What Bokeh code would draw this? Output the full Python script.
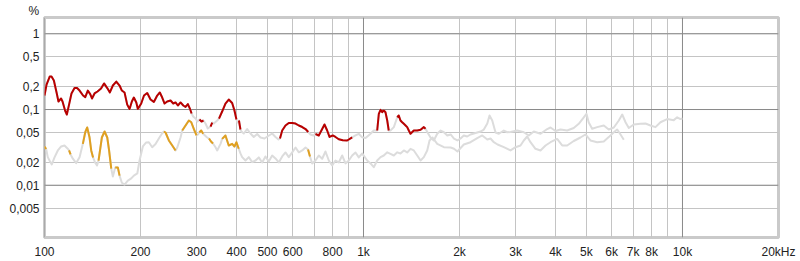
import math
from bokeh.plotting import figure
from bokeh.models import FixedTicker, Span, Title, Range1d
from bokeh.embed import file_html
from bokeh.resources import INLINE

# ---------------- data ----------------
x_ticks = [100, 200, 300, 400, 500, 600, 800, 1000, 2000, 3000, 4000, 5000,
           6000, 7000, 8000, 10000, 20000]
x_tick_labels = ["100", "200", "300", "400", "500", "600", "800", "1k", "2k", "3k",
                 "4k", "5k", "6k", "7k", "8k", "10k", "20kHz"]
x_grid = [100, 200, 300, 400, 500, 600, 700, 800, 900, 1000, 2000, 3000, 4000,
          5000, 6000, 7000, 8000, 9000, 10000, 20000]
y_ticks = [0.005, 0.01, 0.02, 0.05, 0.1, 0.2, 0.5, 1]
y_tick_labels = ["0,005", "0,01", "0,02", "0,05", "0,1", "0,2", "0,5", "1"]
x_decades = [100, 1000, 10000]
y_decades = [0.01, 0.1, 1]
y_unit = "%"

# 2nd harmonic (%)
h2_f = [100, 101.5, 103.9, 105.2, 107, 109.1, 110.6, 112.7, 113.9, 116, 117.5, 119.4,
        121.5, 124.2, 126.5, 128.8, 132.1, 134.2, 136.7, 139.1, 140.9, 143.5, 146.6,
        150.4, 153.7, 157.3, 160.3, 163.8, 167.9, 171.9, 174.8, 178.2, 181.7, 184.8,
        187.9, 190.6, 194, 196.2, 201, 205.1, 209.9, 215, 220.2, 225.6, 229.9, 233.9,
        237.9, 242.5, 248.4, 253.3, 257.5, 261.9, 267, 272.3, 276.8, 281.5, 285.6,
        289.1, 292.5, 297.4, 301.7, 306.1, 310.6, 315.1, 319.7, 325, 331.5, 335.6,
        339.5, 347.9, 352.4, 360.5, 369.2, 378.1, 387.5, 394, 399.7, 402.6, 407,
        411.4, 414.4, 421.4, 431.8, 442.3, 452.9, 464.2, 475.4, 489.3, 500, 517.3,
        529.8, 541.4, 547.3, 556.1, 569.5, 583.2, 597.8, 612.3, 627.1, 642.7, 658.1,
        671.2, 682, 697, 707.1, 724.2, 742.2, 754.6, 769.4, 782.5, 801, 816.9, 836.6,
        861.1, 889, 921.6, 944, 966.7, 990.6, 1015, 1037, 1052, 1077, 1104, 1117,
        1131, 1145, 1158, 1172, 1187, 1200, 1215, 1245, 1276, 1290, 1306, 1322, 1338,
        1355, 1371, 1387, 1404, 1438, 1474, 1510, 1546, 1565, 1588, 1622, 1661, 1703,
        1745, 1787, 1831, 1876, 1922, 1970, 2015, 2063, 2114, 2166, 2273, 2328, 2384,
        2444, 2484, 2533, 2594, 2657, 2754, 2823, 2891, 3033, 3181, 3298, 3419, 3589,
        3767, 3857, 4000, 4145, 4350, 4562, 4730, 4905, 5000, 5084, 5210, 5402, 5666,
        5874, 6092, 6316, 6473, 6629, 6789, 7035, 7384, 7656, 7937, 8229, 8531, 8955,
        9392, 9626, 9858, 10000]
h2_v = [0.153, 0.214, 0.273, 0.273, 0.242, 0.168, 0.1275, 0.140, 0.1275, 0.097, 0.0859,
        0.116, 0.163, 0.192, 0.192, 0.178, 0.153, 0.146, 0.178, 0.160, 0.140, 0.163,
        0.173, 0.189, 0.221, 0.192, 0.168, 0.2075, 0.234, 0.2075, 0.178, 0.168, 0.116,
        0.1015, 0.1275, 0.144, 0.124, 0.1015, 0.120, 0.153, 0.165, 0.1355, 0.126, 0.153,
        0.168, 0.144, 0.120, 0.1275, 0.1315, 0.120, 0.124, 0.113, 0.124, 0.113, 0.108,
        0.118, 0.103, 0.0885, 0.0808, 0.076, 0.0694, 0.0738, 0.0694, 0.0716, 0.0653,
        0.0561, 0.0596, 0.0673, 0.0653, 0.0716, 0.076, 0.0941, 0.120, 0.1355, 0.122,
        0.097, 0.0738, 0.0673, 0.0716, 0.0544, 0.0512, 0.0482, 0.0552, 0.0482, 0.0434,
        0.0475, 0.0427, 0.0414, 0.044, 0.0482, 0.0434, 0.0402, 0.0414, 0.0528, 0.0615,
        0.0663, 0.0663, 0.0653, 0.0615, 0.0587, 0.0552, 0.0505, 0.0468, 0.0454, 0.0475,
        0.0454, 0.0552, 0.0634, 0.0528, 0.0434, 0.0454, 0.0434, 0.0405, 0.0393, 0.039,
        0.0429, 0.0454, 0.0478, 0.0429, 0.042, 0.0454, 0.0478, 0.0528, 0.0528, 0.0877,
        0.099, 0.0922, 0.097, 0.0922, 0.0716, 0.0528, 0.0528, 0.0585, 0.079, 0.0833,
        0.0716, 0.0679, 0.0647, 0.0615, 0.0585, 0.0528, 0.0478, 0.0528, 0.0528, 0.054,
        0.0585, 0.0556, 0.0497, 0.0427, 0.039, 0.0478, 0.0528, 0.0501, 0.0454, 0.0468,
        0.0414, 0.039, 0.0414, 0.0454, 0.044, 0.0468, 0.0497, 0.0512, 0.0544, 0.0653,
        0.0833, 0.0716, 0.0497, 0.0478, 0.0528, 0.0501, 0.0505, 0.0528, 0.0501, 0.0454,
        0.0512, 0.0478, 0.0552, 0.0579, 0.052, 0.0544, 0.0528, 0.057, 0.0647, 0.079,
        0.0877, 0.0673, 0.0556, 0.0585, 0.0615, 0.0544, 0.0579, 0.0716, 0.0859, 0.0679,
        0.057, 0.0634, 0.0647, 0.0653, 0.0615, 0.0585, 0.0679, 0.0748, 0.0724, 0.079,
        0.0748, 0.076]
# frequency spans where H2 is shown in colour
h2_hi = [(100, 289.1), (306.1, 315.1), (331.5, 335.6), (352.4, 399.7), (407, 411.4),
         (547.3, 671.2), (707.1, 921.6), (1104, 1200), (1276, 1565)]

# 3rd harmonic (%)
h3_f = [100, 101.2, 102.4, 103.7, 105.4, 107.5, 110.1, 112.8, 115.5, 118.5, 119.4, 120.7,
        122.7, 125.7, 128.8, 131.9, 134.2, 136.1, 138.4, 140.1, 142, 144, 146.1, 147.7,
        149.3, 151.3, 154.3, 157.3, 159.4, 161.9, 163.8, 166.6, 169.8, 171.9, 174.8,
        178.2, 182.5, 187.1, 190.6, 195.4, 198.6, 203.4, 208.4, 212.4, 217.6, 222.9,
        228.3, 233.6, 236.7, 239.6, 245.4, 251.5, 257.5, 260.7, 267, 270.3, 276.8,
        283.5, 288.5, 294, 299.6, 302.8, 305.7, 309.9, 314.4, 318.5, 323.6, 327.9,
        332.6, 337.5, 343.7, 347.9, 356.3, 360.5, 369.2, 378.1, 387.5, 394, 399.7,
        406.4, 411.4, 416.5, 426.6, 436.9, 447.8, 458.6, 469.6, 481.2, 492.8, 504.7,
        517.3, 529.8, 542.6, 556.1, 569.5, 583.2, 597.8, 612.3, 627.1, 642.7, 658.1,
        670.2, 679.6, 690.5, 707.1, 724.2, 742.2, 760.1, 778.5, 797.7, 816.9, 836.6,
        857.4, 878.1, 899.4, 921.6, 944, 966.7, 990.6, 1027, 1052, 1077, 1104, 1131,
        1158, 1187, 1215, 1245, 1276, 1306, 1338, 1371, 1404, 1438, 1474, 1510, 1546,
        1584, 1611, 1646, 1703, 1787, 1876, 1922, 1970, 2063, 2166, 2273, 2357, 2444,
        2502, 2562, 2632, 2754, 2891, 2996, 3106, 3181, 3260, 3338, 3461, 3589, 3721,
        3857, 4046, 4196, 4350, 4562, 4788, 4964, 5146, 5402, 5666, 5874, 6092, 6243,
        6394, 6548]
h3_v = [0.0325, 0.0301, 0.0235, 0.0212, 0.0188, 0.0233, 0.0288, 0.0325, 0.0335, 0.0301,
        0.0288, 0.0255, 0.0224, 0.0196, 0.0235, 0.0352, 0.0501, 0.0579, 0.043, 0.0288,
        0.0233, 0.020, 0.0182, 0.0212, 0.0288, 0.0427, 0.0512, 0.0427, 0.0288, 0.0166,
        0.013, 0.0172, 0.0172, 0.0134, 0.0108, 0.0102, 0.0115, 0.0123, 0.0134, 0.0143,
        0.0212, 0.0325, 0.0367, 0.0369, 0.0318, 0.035, 0.0414, 0.0482, 0.0512, 0.0497,
        0.039, 0.0335, 0.0288, 0.0315, 0.0427, 0.0528, 0.0615, 0.0716, 0.0679, 0.0552,
        0.0454, 0.0468, 0.0497, 0.0528, 0.0478, 0.0454, 0.0427, 0.0414, 0.0378, 0.0356,
        0.0318, 0.0288, 0.0352, 0.041, 0.0454, 0.0335, 0.0352, 0.0325, 0.037, 0.0303,
        0.0263, 0.0235, 0.0212, 0.0235, 0.0202, 0.0212, 0.0233, 0.020, 0.024, 0.0206,
        0.0247, 0.0226, 0.020, 0.024, 0.0271, 0.0235, 0.0272, 0.0315, 0.0272, 0.0288,
        0.0315, 0.0297, 0.024, 0.0194, 0.0212, 0.0247, 0.0224, 0.0279, 0.0212, 0.0182,
        0.0212, 0.020, 0.0247, 0.0194, 0.0212, 0.0247, 0.0271, 0.0233, 0.0263, 0.0212,
        0.0194, 0.0173, 0.0212, 0.0235, 0.0247, 0.0272, 0.026, 0.0247, 0.0272, 0.0263,
        0.0288, 0.0271, 0.0302, 0.0288, 0.0247, 0.0212, 0.0235, 0.0288, 0.039, 0.0427,
        0.0352, 0.0318, 0.0315, 0.0303, 0.0279, 0.0345, 0.037, 0.042, 0.0454, 0.0402,
        0.0414, 0.037, 0.0345, 0.0318, 0.0288, 0.0318, 0.0335, 0.039, 0.044, 0.037,
        0.0303, 0.0288, 0.0335, 0.037, 0.0409, 0.0335, 0.0335, 0.0384, 0.0427, 0.0468,
        0.039, 0.037, 0.0378, 0.0432, 0.0501, 0.0544, 0.0468, 0.0399]
h3_hi = [(100, 101.2), (119.4, 120.7), (131.9, 142), (147.7, 161.9), (166.6, 171.9),
         (236.7, 257.5), (270.3, 299.6), (305.7, 314.4), (327.9, 337.5), (360.5, 406.4),
         (670.2, 679.6)]

# ---------------- styling ----------------
RED = "#b80000"
ORANGE = "#e0a020"
GREY = "#dcdcdc"
GRID = "#c4c4c4"
DECADE = "#8a8a8a"
FONT = "Liberation Sans"


def highlighted(freqs, vals, spans):
    out = []
    for f, v in zip(freqs, vals):
        inside = any(lo <= f <= hi for lo, hi in spans)
        out.append(v if inside else float("nan"))
    return out


p = figure(width=800, height=261, x_axis_type="log", y_axis_type="log",
           x_range=Range1d(100, 20000), y_range=Range1d(0.00204, 1.642),
           output_backend="svg", toolbar_location=None, title=None,
           min_border_left=44, min_border_right=22, min_border_top=17,
           min_border_bottom=24)
p.background_fill_color = "white"
p.border_fill_color = "white"
p.outline_line_color = "#cacaca"
p.outline_line_width = 3

p.xgrid.ticker = FixedTicker(ticks=x_grid)
p.ygrid.ticker = FixedTicker(ticks=y_ticks)
for g in (p.xgrid, p.ygrid):
    g.grid_line_color = GRID
    g.grid_line_width = 1

for xv in x_decades:
    p.add_layout(Span(location=xv, dimension="height", line_color=DECADE,
                      line_width=1, level="underlay"))
for yv in y_decades:
    p.add_layout(Span(location=yv, dimension="width", line_color=DECADE,
                      line_width=1, level="underlay"))

p.xaxis.ticker = FixedTicker(ticks=x_ticks)
p.xaxis.major_label_overrides = {t: l for t, l in zip(x_ticks, x_tick_labels)}
p.yaxis.ticker = FixedTicker(ticks=y_ticks)
p.yaxis.major_label_overrides = {t: l for t, l in zip(y_ticks, y_tick_labels)}
for ax in (p.xaxis, p.yaxis):
    ax.axis_line_color = None
    ax.major_tick_line_color = None
    ax.minor_tick_line_color = None
    ax.major_tick_in = 0
    ax.major_tick_out = 0
    ax.major_label_text_font = FONT
    ax.major_label_text_font_size = "12px"
    ax.major_label_text_color = "#222222"
p.xaxis.major_label_standoff = 7
p.yaxis.major_label_standoff = 5

# grey (full) traces
p.line(h2_f, h2_v, line_color=GREY, line_width=2, line_join="round")
p.line(h3_f, h3_v, line_color=GREY, line_width=2, line_join="round")
# coloured parts
p.line(h3_f, highlighted(h3_f, h3_v, h3_hi), line_color=ORANGE, line_width=2,
       line_join="round")
p.line(h2_f, highlighted(h2_f, h2_v, h2_hi), line_color=RED, line_width=2,
       line_join="round")

unit_title = Title(text=y_unit, align="left", offset=-16, standoff=0,
                   text_font=FONT, text_font_size="12px", text_font_style="normal",
                   text_color="#222222", text_line_height=1.0)
p.add_layout(unit_title, "above")

open("out.html", "w").write(file_html(p, INLINE))
